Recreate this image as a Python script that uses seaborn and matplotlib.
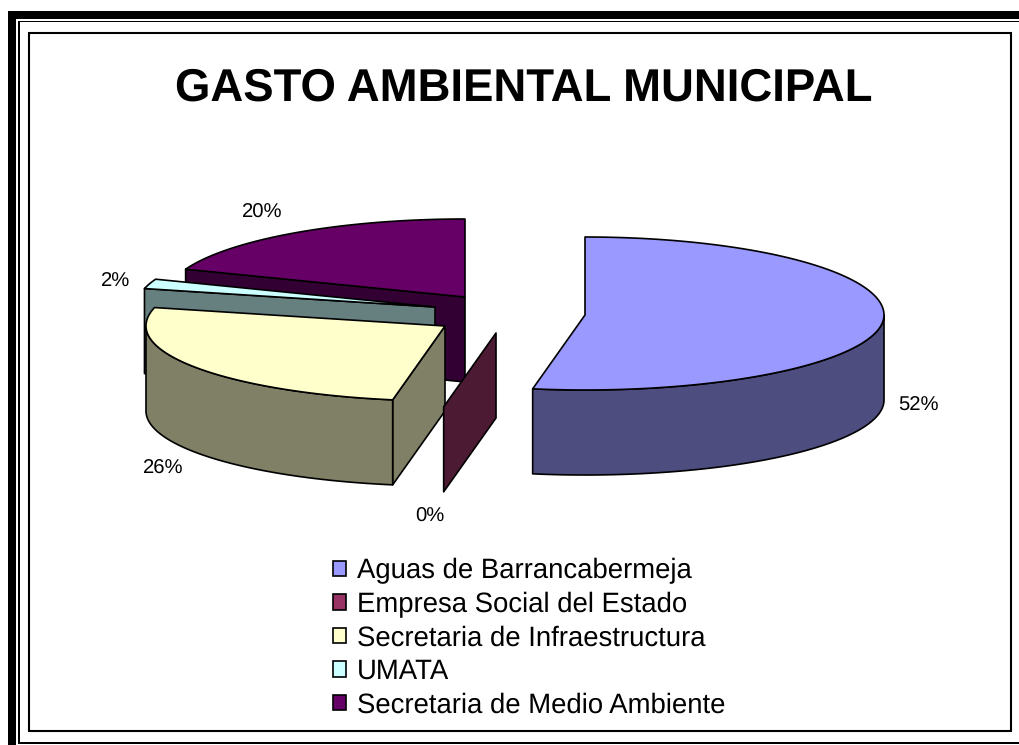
import numpy as np
import matplotlib
matplotlib.use("Agg")
import matplotlib.pyplot as plt
from matplotlib.colors import to_rgb
from matplotlib.patches import Polygon, Rectangle, Patch
import seaborn as sns

# ---- data ----
categories = ["Aguas de Barrancabermeja", "Empresa Social del Estado",
              "Secretaria de Infraestructura", "UMATA",
              "Secretaria de Medio Ambiente"]
shares = [52.8, 0.0, 26.0, 2.0, 19.2]
share_labels = ["52%", "0%", "26%", "2%", "20%"]
slice_colors = ["#9999FF", "#993366", "#FFFFCC", "#CCFFFF", "#660066"]

# ---- layout (pixels of the 1020x745 canvas) ----
RX, RY_FAR, RY_NEAR, DEPTH = 299, 78, 75, 85
APEX = [(585, 315), (496, 333), (445, 326), (435, 307), (465, 297)]
LABEL_POS = [(918, 406), (430, 517), (163, 469), (116, 282), (262, 213)]
LW = 1.2

sns.set_theme(style="white")
plt.rcParams["font.family"] = ["Liberation Sans", "DejaVu Sans"]
plt.rcParams["text.hinting"] = "no_hinting"
plt.rcParams["text.hinting_factor"] = 8

fig = plt.figure(figsize=(10.2, 7.45), dpi=100, facecolor="white")
ax = fig.add_axes([0, 0, 1, 1])
ax.set_xlim(0, 1020)
ax.set_ylim(745, 0)
ax.axis("off")

# frame
for x, y, w, h in [(8, 11, 8.5, 734), (8, 11, 1012, 8), (18, 20.5, 1.7, 723),
                   (18, 20.5, 1002, 1.7), (18, 741.5, 1002, 2)]:
    ax.add_patch(Rectangle((x, y), w, h, fc="black", ec="none", zorder=1))
ax.add_patch(Rectangle((29.5, 32.5), 982, 698.5, fc="white", ec="black", lw=1.5, zorder=1))


def shade(c):
    return tuple(v * 0.5 for v in to_rgb(c))


def rim(c, t0, t1, n=120):
    t = np.radians(np.linspace(t0, t1, n))
    ry = np.where(np.sin(t) > 0, RY_NEAR, RY_FAR)
    return np.column_stack([c[0] + RX * np.cos(t), c[1] + ry * np.sin(t)])


def poly(pts, fc, z):
    ax.add_patch(Polygon(pts, closed=True, fc=fc, ec="black", lw=LW,
                         joinstyle="round", zorder=z))


# angular extents, clockwise on screen, starting from the top of the ellipse
edges = -90 + np.cumsum([0] + shares) * 3.6
down = np.array([0, DEPTH])
z = 3
for i in range(len(shares) - 1, -1, -1):  # back-to-front
    c, col = np.array(APEX[i], float), slice_colors[i]
    t0, t1 = edges[i], edges[i + 1]
    dark = shade(col)
    # cut faces turned towards the viewer
    for t, visible in ((t0, np.cos(np.radians(t0)) < -1e-9), (t1, np.cos(np.radians(t1)) > 1e-9)):
        if visible:
            p = rim(c, t, t, 1)[0]
            poly([c, p, p + down, c + down], dark, z)
            z += 1
    # outer wall: only the near half of the rim shows
    a, b = max(t0, 0), min(t1, 180)
    if b > a:
        r = rim(c, a, b)
        poly(np.vstack([r, (r + down)[::-1]]), dark, z)
        z += 1
    # top face
    if t1 > t0:
        poly(np.vstack([[c], rim(c, t0, t1)]), col, z)
        z += 1

for txt, (x, y) in zip(share_labels, LABEL_POS):
    ax.text(x, y, txt, ha="center", va="center", fontsize=14.6, color="black", zorder=50)

ax.text(524, 89, "GASTO AMBIENTAL MUNICIPAL", ha="center", va="center",
        fontsize=32.8, fontweight="bold", color="black", zorder=50)

handles = [Patch(fc=c, ec="black", lw=1.2, label=l) for c, l in zip(slice_colors, categories)]
leg = ax.legend(handles=handles, loc="upper left", bbox_to_anchor=(333, 558),
                bbox_transform=ax.transData, frameon=False, fontsize=19.85,
                borderpad=0, borderaxespad=0, handlelength=0.48, handleheight=0.48,
                handletextpad=0.40, labelspacing=0.27, labelcolor="black")
leg.set_zorder(50)

sns.despine(ax=ax, left=True, bottom=True)
fig.savefig("out.png", dpi=100, facecolor="white")
